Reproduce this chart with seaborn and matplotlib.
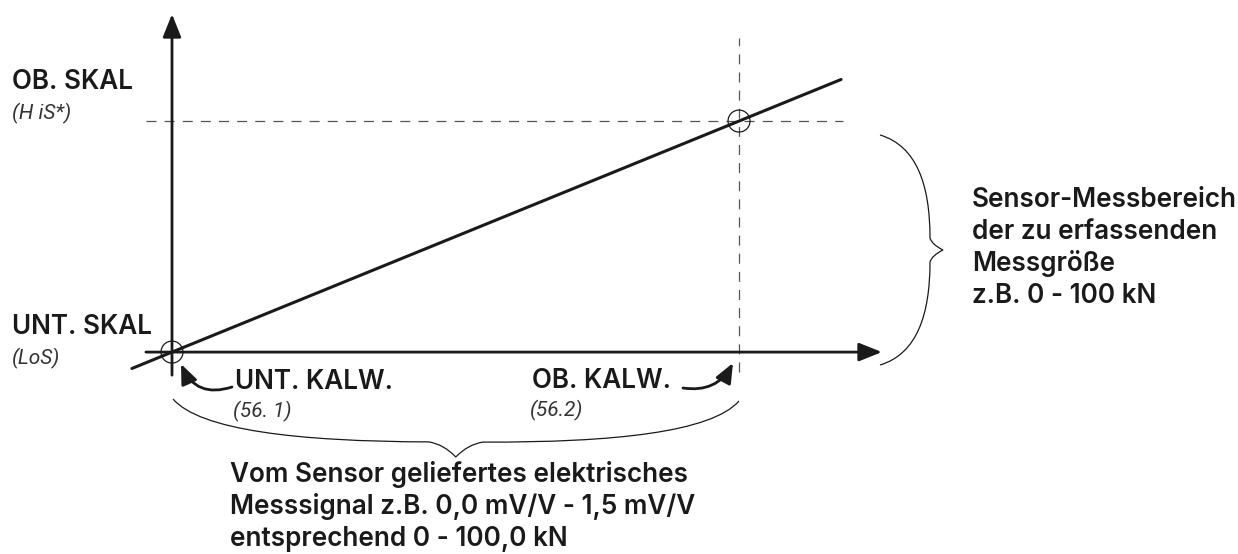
"""
Kennlinie der Sensorskalierung: Zuordnung Messsignal (mV/V) -> Messgroesse (kN)
"""

import matplotlib
matplotlib.use("Agg")
import matplotlib.pyplot as plt
import seaborn as sns
import numpy as np
from matplotlib.path import Path
from matplotlib.patches import PathPatch
from matplotlib.transforms import Affine2D

# Kennlinie: Signal in mV/V, Messgroesse in kN
signal_mv = [-0.106, 0.0, 1.5, 1.77]
force_kn = [-7.1, 0.0, 100.0, 118.0]

# Kalibrierpunkte (UNT. KALW. / OB. KALW.)
cal_signal = [0.0, 1.5]
cal_force = [0.0, 100.0]

scale_labels = ["OB. SKAL", "UNT. SKAL"]
scale_codes = ["(H iS*)", "(LoS)"]
cal_labels = ["UNT. KALW.", "OB. KALW."]
cal_codes = ["(56. 1)", "(56.2)"]
range_text = ["Sensor-Messbereich", "der zu erfassenden", "Messgröße", "z.B. 0 - 100 kN"]
signal_text = ["Vom Sensor geliefertes elektrisches",
               "Messsignal z.B. 0,0 mV/V - 1,5 mV/V",
               "entsprechend 0 - 100,0 kN"]

W, H = 1238, 554
INK = "#1a1a1a"
FONT = ["Inter", "DejaVu Sans"]
CODE_FONT = ["Roboto", "DejaVu Sans"]
FS = 18.8


def brace_path(start, end, depth, notch, tip, side=1):
    """Geschweifte Klammer von start nach end (Pixel), Spitze in der Mitte."""
    start, end = np.asarray(start, float), np.asarray(end, float)
    length = np.linalg.norm(end - start)
    d = (end - start) / length
    n = side * np.array([-d[1], d[0]])
    half = length / 2
    uv = [(0, 0), (0.048 * length, 0.74 * depth), (0.22 * length, depth),
          (half - notch, depth), (half - 0.45 * notch, depth + 0.15 * tip),
          (half, depth + tip)]
    mirror = [(length - u, v) for u, v in uv[::-1]][1:]
    pts = [start + u * d + v * n for u, v in uv + mirror]
    codes = [Path.MOVETO, Path.CURVE4, Path.CURVE4, Path.CURVE4, Path.CURVE3, Path.CURVE3,
             Path.CURVE3, Path.CURVE3, Path.CURVE4, Path.CURVE4, Path.CURVE4]
    return Path(pts, codes)


sns.set_style("white")
plt.rcParams["font.family"] = FONT

fig = plt.figure(figsize=(W / 100, H / 100), dpi=100)
ax = fig.add_axes([0, 0, 1, 1])
ax.set_xlim(-0.455, 2.820)
ax.set_ylim(-87.4, 152.4)
ax.axis("off")

# Pixelkoordinaten (Ursprung oben links) fuer Beschriftungen
pix = Affine2D().scale(1, -1).translate(0, H)

# Achsen mit Pfeilen
axis_arrow = dict(arrowstyle="-|>,head_length=0.7,head_width=0.28", lw=2.0, color=INK,
                  shrinkA=0, shrinkB=0, mutation_scale=20)
ax.annotate("", xy=(1.878, 0), xytext=(-0.069, 0), arrowprops=axis_arrow)
ax.annotate("", xy=(0, 146.3), xytext=(0, -10), arrowprops=axis_arrow)

# Hilfslinien zum oberen Kalibrierpunkt
dash = (0, (8, 6.5))
ax.hlines(cal_force[1], -0.069, 1.775, colors="#555555", linestyles=dash, linewidth=0.9)
ax.vlines(cal_signal[1], -8.7, 135.9, colors="#555555", linestyles=dash, linewidth=0.9)

# Kennlinie
sns.lineplot(x=signal_mv, y=force_kn, ax=ax, color=INK, linewidth=2.2, legend=False)
ax.scatter(cal_signal, cal_force, s=250, facecolors="none", edgecolors=INK,
           linewidths=0.9, zorder=4)

# Skalierungsbeschriftungen links
for label, code, base in zip(scale_labels, scale_codes, [89, 334]):
    ax.text(12, base, label, transform=pix, fontsize=FS, fontweight="semibold",
            color=INK, va="baseline")
    ax.text(12, base + 30, code, transform=pix, fontsize=15, family=CODE_FONT,
            fontweight="normal", style="italic", color="#333333", va="baseline")

# Kalibrierbeschriftungen unten
for label, code, (x, base) in zip(cal_labels, cal_codes, [(235, 389), (532, 388)]):
    ax.text(x, base, label, transform=pix, fontsize=FS, fontweight="semibold",
            color=INK, va="baseline")
    ax.text(x - 2, base + 28, code, transform=pix, fontsize=15, family=CODE_FONT,
            fontweight="normal", style="italic", color="#333333", va="baseline")

curve_arrow = dict(arrowstyle="-|>,head_length=0.6,head_width=0.25", lw=2.0, color=INK,
                   shrinkA=0, shrinkB=0, mutation_scale=20)
ax.annotate("", xy=(181, 364), xycoords=pix, xytext=(232, 387), textcoords=pix,
            arrowprops=dict(curve_arrow, connectionstyle="arc3,rad=-0.45"))
ax.annotate("", xy=(733, 363), xycoords=pix, xytext=(683, 388), textcoords=pix,
            arrowprops=dict(curve_arrow, connectionstyle="arc3,rad=0.35"))

# Klammern
ax.add_patch(PathPatch(brace_path((173, 399), (739, 401), 42, 27, 15, side=1),
                       transform=pix, fill=False, lw=0.9, ec=INK))
ax.add_patch(PathPatch(brace_path((880, 135), (880, 365), 50, 12, 13, side=-1),
                       transform=pix, fill=False, lw=0.9, ec=INK))

for i, line in enumerate(range_text):
    ax.text(972, 207 + 32 * i, line, transform=pix, fontsize=FS, fontweight="semibold",
            color=INK, va="baseline")
for i, line in enumerate(signal_text):
    ax.text(230, 482 + 32 * i, line, transform=pix, fontsize=FS, fontweight="semibold",
            color=INK, va="baseline")

fig.savefig("out.png", dpi=100)
plt.close(fig)
